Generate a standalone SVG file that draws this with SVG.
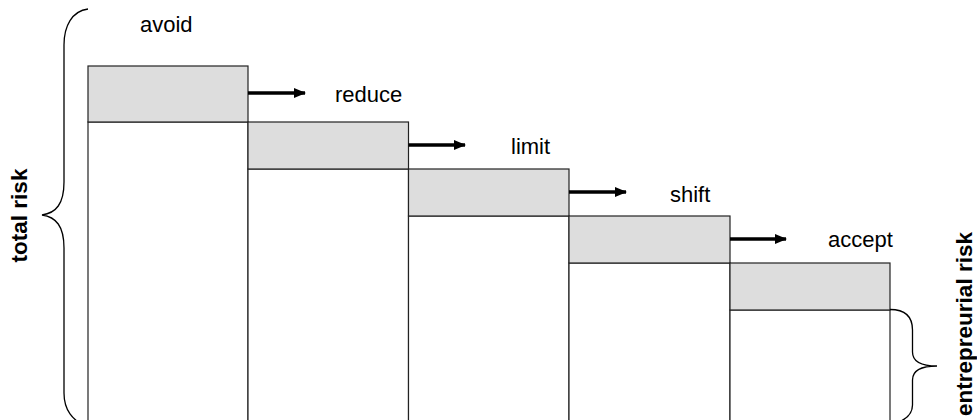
<svg xmlns="http://www.w3.org/2000/svg" width="977" height="420" viewBox="0 0 977 420">
<defs>
<style>
.grey{fill:#dddddd;stroke:#222;stroke-width:1.2}
.white{fill:#ffffff;stroke:#222;stroke-width:1.2}
.lbl{font-family:"Liberation Sans",Arial,sans-serif;font-size:22px;fill:#000}
.bold{font-family:"Liberation Sans",Arial,sans-serif;font-size:22.5px;font-weight:bold;fill:#000;text-anchor:middle}
.arrow{stroke:#000;stroke-width:3.3;fill:none}
.brace{stroke:#000;stroke-width:1.3;fill:none}
</style>
<marker id="ah" viewBox="0 0 12 10" refX="11" refY="5" markerWidth="12" markerHeight="10" markerUnits="userSpaceOnUse" orient="auto">
<path d="M0,0 L12,5 L0,10 Z" fill="#000"/>
</marker>
</defs>
<rect width="977" height="420" fill="#ffffff"/>
<g id="avoid">
<rect class="white" x="88" y="122" width="160" height="310"/>
<rect class="grey" x="88" y="66" width="160" height="56"/>
<text class="lbl" x="140" y="32">avoid</text>
</g>
<g id="reduce">
<rect class="white" x="248" y="169" width="160.5" height="260"/>
<rect class="grey" x="248" y="122" width="160.5" height="47"/>
<text class="lbl" x="335" y="102">reduce</text>
</g>
<g id="limit">
<rect class="white" x="408.5" y="216" width="160.5" height="220"/>
<rect class="grey" x="408.5" y="169" width="160.5" height="47"/>
<text class="lbl" x="511" y="154">limit</text>
</g>
<g id="shift">
<rect class="white" x="569" y="263" width="161" height="170"/>
<rect class="grey" x="569" y="216" width="161" height="47"/>
<text class="lbl" x="670" y="201.5">shift</text>
</g>
<g id="accept">
<rect class="white" x="730" y="310" width="160" height="130"/>
<rect class="grey" x="730" y="263" width="160" height="47"/>
<text class="lbl" x="828" y="247">accept</text>
</g>
<g id="connectors">
<line class="arrow" x1="248" y1="93" x2="305" y2="93" marker-end="url(#ah)"/>
<line class="arrow" x1="408.5" y1="145" x2="465" y2="145" marker-end="url(#ah)"/>
<line class="arrow" x1="569" y1="192" x2="626" y2="192" marker-end="url(#ah)"/>
<line class="arrow" x1="730" y1="239" x2="786" y2="239" marker-end="url(#ah)"/>
</g>
<g id="total-risk">
<path class="brace" d="M88,9 C72,11 64,26 64,45 L64,182 C64,204 56,213 42,215 C56,217 64,226 64,248 L64,393 C64,410 72,420 88,428"/>
<text class="bold" transform="translate(27,215.5) rotate(-90)">total risk</text>
</g>
<g id="entrepreurial-risk">
<path class="brace" d="M890,309.5 C905,309.5 912.5,316 912.5,330 L912.5,352 C912.5,362 922,366 937,366 C922,366 912.5,370 912.5,380 L912.5,405 C912.5,415 905,420 896,423"/>
<text class="bold" transform="translate(971.5,324) rotate(-90)">entrepreurial risk</text>
</g>
</svg>
